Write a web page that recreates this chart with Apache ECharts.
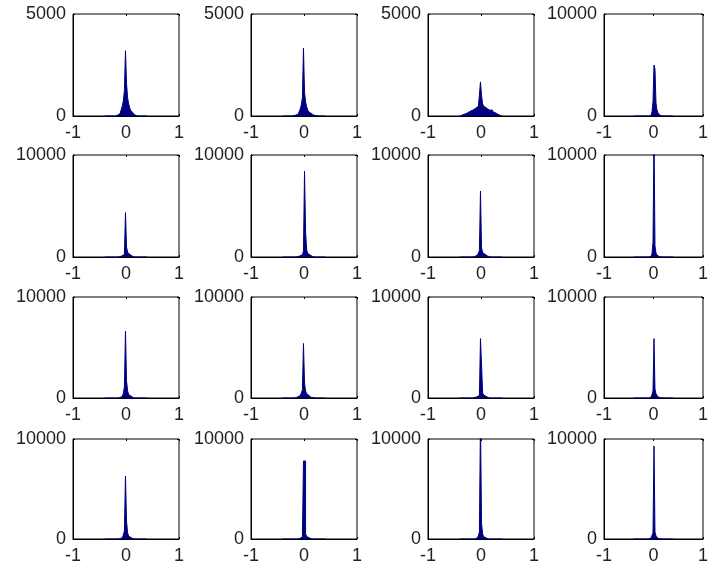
<!DOCTYPE html>
<html>
<head>
<meta charset="utf-8">
<script src="https://cdn.jsdelivr.net/npm/echarts@6/dist/echarts.min.js"></script>
<style>
  html, body { margin: 0; padding: 0; background: #fff; }
  #content { width: 711px; height: 567px; }
</style>
</head>
<body>
<div id="content"></div>
<script>
// bin centres shared by every histogram (outside this range all counts are 0)
var binCenters = [-0.40,-0.38,-0.36,-0.34,-0.32,-0.30,-0.28,-0.26,-0.24,-0.22,-0.20,
                  -0.18,-0.16,-0.14,-0.12,-0.10,-0.08,-0.06,-0.04,-0.02,
                   0,
                   0.02,0.04,0.06,0.08,0.10,0.12,0.14,0.16,0.18,0.20,
                   0.22,0.24,0.26,0.28,0.30,0.32,0.34,0.36,0.38,0.40];
var xTicks = [-1, 0, 1];
var yMaxes = [5000, 5000, 5000, 10000,
              10000, 10000, 10000, 10000,
              10000, 10000, 10000, 10000,
              10000, 10000, 10000, 10000];

// counts per panel, row by row
var h1  = [0,0,0,0,0,0,0,0,0,0,0, 20,40,70,120,200,320,480,750,1250, 3200, 1600,900,600,400,260,170,110,70,40,20, 0,0,0,0,0,0,0,0,0,0];
var h2  = [0,0,0,0,0,0,0,0,0,0,15, 25,40,60,90,140,220,350,550,900, 3330, 1170,700,450,300,200,140,100,70,50,35, 25,15,10,0,0,0,0,0,0,0];
var h3  = [0,20,40,60,80,100,130,160,190,220,250, 260,290,310,350,400,430,480,560,1030, 1670, 1000,600,480,420,380,340,300,280,260,300, 250,200,160,130,100,70,50,30,20,0];
var h4  = [0,0,0,0,0,0,0,0,0,0,0, 0,0,0,0,0,0,50,150,400, 1400, 5000,4600,1300,600,300,150,80,40,0,0, 0,0,0,0,0,0,0,0,0,0];
var h5  = [0,0,0,0,0,0,0,0,0,0,0, 0,0,0,30,60,100,160,250,400, 4350, 1000,450,280,180,110,60,30,0,0,0, 0,0,0,0,0,0,0,0,0,0];
var h6  = [0,0,0,0,0,0,0,0,0,0,0, 0,0,0,30,60,100,150,230,350, 600, 8400,2450,700,350,220,140,90,50,30,0, 0,0,0,0,0,0,0,0,0,0];
var h7  = [0,0,0,0,0,0,0,0,0,0,0, 0,0,30,60,100,160,250,380,600, 6470, 900,450,300,200,130,80,50,25,0,0, 0,0,0,0,0,0,0,0,0,0];
var h8  = [0,0,0,0,0,0,0,0,0,0,0, 0,0,0,0,0,0,60,150,350, 1400, 12000,1100,400,180,80,30,0,0,0,0, 0,0,0,0,0,0,0,0,0,0];
var h9  = [0,0,0,0,0,0,0,0,0,0,0, 0,0,0,40,80,150,250,450,1100, 6630, 1730,700,350,200,110,60,30,0,0,0, 0,0,0,0,0,0,0,0,0,0];
var h10 = [0,0,0,0,0,0,0,0,0,0,0, 0,30,60,100,160,240,350,500,800, 5400, 1470,700,420,280,180,120,70,40,20,0, 0,0,0,0,0,0,0,0,0,0];
var h11 = [0,0,0,0,0,0,0,0,0,0,0, 0,0,20,40,70,110,170,260,450, 5880, 3370,500,300,180,110,70,40,20,0,0, 0,0,0,0,0,0,0,0,0,0];
var h12 = [0,0,0,0,0,0,0,0,0,0,0, 0,0,0,0,0,30,80,180,350, 700, 5880,900,400,220,120,60,30,0,0,0, 0,0,0,0,0,0,0,0,0,0];
var h13 = [0,0,0,0,0,0,0,0,0,0,0, 0,0,0,30,60,120,220,400,800, 6300, 1800,600,300,160,80,40,0,0,0,0, 0,0,0,0,0,0,0,0,0,0];
var h14 = [0,0,0,0,0,0,0,0,0,0,0, 0,0,0,0,30,60,110,200,400, 7800, 7800,500,250,140,80,40,20,0,0,0, 0,0,0,0,0,0,0,0,0,0];
var h15 = [0,0,0,0,0,0,0,0,0,0,0, 0,0,0,0,30,70,140,300,700, 12000, 1600,500,250,130,60,30,0,0,0,0, 0,0,0,0,0,0,0,0,0,0];
var h16 = [0,0,0,0,0,0,0,0,0,0,0, 0,0,0,0,0,0,40,100,250, 600, 9300,700,300,150,70,30,0,0,0,0, 0,0,0,0,0,0,0,0,0,0];
var hists = [h1,h2,h3,h4,h5,h6,h7,h8,h9,h10,h11,h12,h13,h14,h15,h16];

var myChart = echarts.init(document.getElementById('content'));

var colLeft = [73, 251, 428, 604];
var colWidth = [106, 106, 106, 107];
var rowTop = [14, 155, 297, 439];
var rowHeight = [102, 102, 101, 100];
var barColor = '#000080';
var labelFont = {color: '#222', fontSize: 18, fontFamily: 'Liberation Sans, Arial, sans-serif'};
var plain = function (v) { return String(v); };   // no thousands separator

var grids = [], xAxes = [], yAxes = [], series = [];
for (var i = 0; i < 16; i++) {
    var r = Math.floor(i / 4), c = i % 4;
    grids.push({
        left: colLeft[c], top: rowTop[r], width: colWidth[c], height: rowHeight[r],
        show: true, borderColor: '#000', borderWidth: 1, backgroundColor: '#fff'
    });
    // bottom axis with labels, top axis only for the inner ticks of the box
    xAxes.push({
        gridIndex: i, type: 'value', min: xTicks[0], max: xTicks[2], interval: 1,
        axisLine: {show: true, onZero: false, lineStyle: {color: '#000', width: 1}},
        axisTick: {show: true, inside: true, length: 2, lineStyle: {color: '#000'}},
        axisLabel: Object.assign({margin: 8, formatter: plain}, labelFont),
        splitLine: {show: false}
    });
    xAxes.push({
        gridIndex: i, type: 'value', position: 'top', min: -1, max: 1, interval: 1,
        axisLine: {show: false, onZero: false},
        axisTick: {show: true, inside: true, length: 2, lineStyle: {color: '#000'}},
        axisLabel: {show: false}, splitLine: {show: false}
    });
    yAxes.push({
        gridIndex: i, type: 'value', min: 0, max: yMaxes[i], interval: yMaxes[i],
        axisLine: {show: true, onZero: false, lineStyle: {color: '#000', width: 1}},
        axisTick: {show: true, inside: true, length: 2, lineStyle: {color: '#000'}},
        axisLabel: Object.assign({margin: 7, formatter: plain}, labelFont),
        splitLine: {show: false}
    });
    yAxes.push({
        gridIndex: i, type: 'value', position: 'right', min: 0, max: yMaxes[i], interval: yMaxes[i],
        axisLine: {show: false, onZero: false},
        axisTick: {show: true, inside: true, length: 2, lineStyle: {color: '#000'}},
        axisLabel: {show: false}, splitLine: {show: false}
    });
    var counts = hists[i];
    series.push({
        type: 'line',
        xAxisIndex: i * 2, yAxisIndex: i * 2,
        step: 'middle', symbol: 'none', silent: true, clip: true,
        lineStyle: {color: barColor, width: 1},
        areaStyle: {color: barColor, opacity: 1},
        data: binCenters.map(function (x, k) { return [x, counts[k]]; })
    });
}

var option = {
    animation: false,
    backgroundColor: '#fff',
    grid: grids,
    xAxis: xAxes,
    yAxis: yAxes,
    series: series
};
myChart.setOption(option);
</script>
</body>
</html>
